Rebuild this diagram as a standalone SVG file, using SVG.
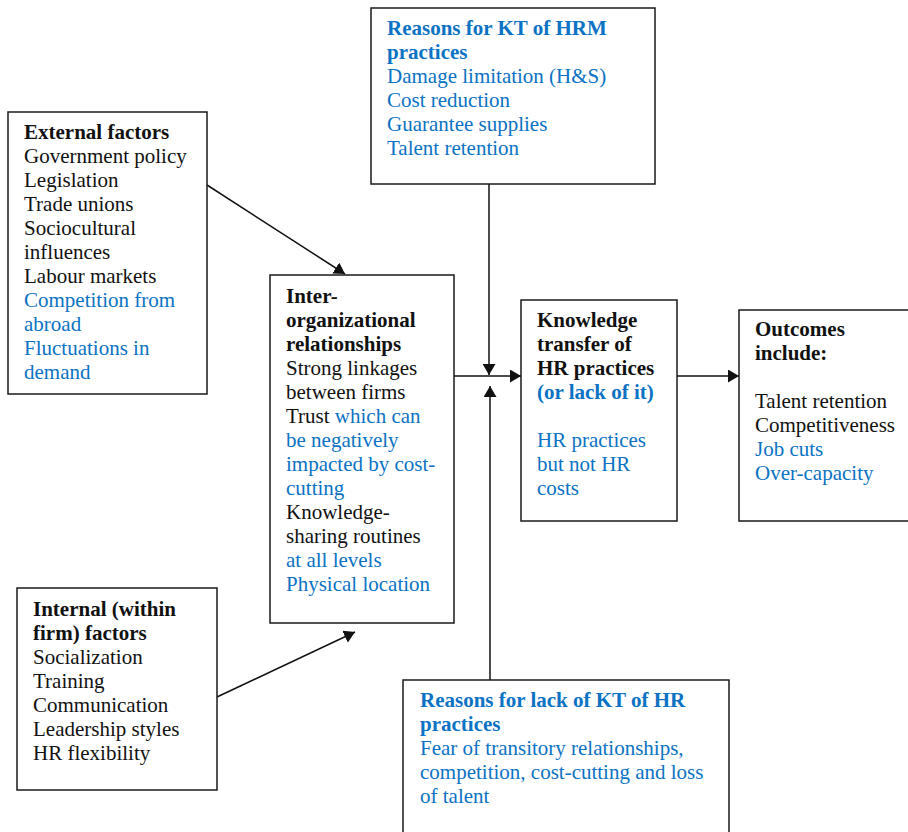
<svg xmlns="http://www.w3.org/2000/svg" width="908" height="832" viewBox="0 0 908 832">
<style>
.box{fill:#fff;stroke:#1a1a1a;stroke-width:1.5}
text{font-family:"Liberation Serif","Times New Roman",serif;font-size:21px;fill:#111}
.b{font-weight:bold}
.bl{fill:#0b72c4}
.conn{stroke:#111;stroke-width:1.5;fill:none;marker-end:url(#ah)}
</style>
<defs>
<marker id="ah" markerUnits="userSpaceOnUse" markerWidth="12" markerHeight="13" refX="11" refY="6.5" orient="auto">
<path d="M0,0 L11,6.5 L0,13 z" fill="#111"/>
</marker>
</defs>
<rect width="908" height="832" fill="#fff"/>
<g id="connectors">
<line class="conn" x1="207" y1="185" x2="345" y2="274"/>
<line class="conn" x1="217" y1="697" x2="355" y2="632"/>
<line class="conn" x1="454" y1="376" x2="521" y2="376"/>
<line class="conn" x1="489" y1="184" x2="489" y2="375"/>
<line class="conn" x1="490" y1="680" x2="490" y2="386"/>
<line class="conn" x1="677" y1="376" x2="739" y2="376"/>
</g>
<g id="reasons-kt">
<rect class="box" x="371" y="8" width="284" height="176"/>
<text x="387" y="35" class="b bl">Reasons for KT of HRM</text>
<text x="387" y="59" class="b bl">practices</text>
<text x="387" y="83" class="bl">Damage limitation (H&amp;S)</text>
<text x="387" y="107" class="bl">Cost reduction</text>
<text x="387" y="131" class="bl">Guarantee supplies</text>
<text x="387" y="155" class="bl">Talent retention</text>
</g>
<g id="external">
<rect class="box" x="8" y="112" width="199" height="282"/>
<text x="24" y="139" class="b">External factors</text>
<text x="24" y="163">Government policy</text>
<text x="24" y="187">Legislation</text>
<text x="24" y="211">Trade unions</text>
<text x="24" y="235">Sociocultural</text>
<text x="24" y="259">influences</text>
<text x="24" y="283">Labour markets</text>
<text x="24" y="307" class="bl">Competition from</text>
<text x="24" y="331" class="bl">abroad</text>
<text x="24" y="355" class="bl">Fluctuations in</text>
<text x="24" y="379" class="bl">demand</text>
</g>
<g id="inter-org">
<rect class="box" x="270" y="275" width="184" height="348"/>
<text x="286" y="303" class="b">Inter-</text>
<text x="286" y="327" class="b">organizational</text>
<text x="286" y="351" class="b">relationships</text>
<text x="286" y="375">Strong linkages</text>
<text x="286" y="399">between firms</text>
<text x="286" y="423">Trust <tspan class="bl">which can</tspan></text>
<text x="286" y="447" class="bl">be negatively</text>
<text x="286" y="471" class="bl">impacted by cost-</text>
<text x="286" y="495" class="bl">cutting</text>
<text x="286" y="519">Knowledge-</text>
<text x="286" y="543">sharing routines</text>
<text x="286" y="567" class="bl">at all levels</text>
<text x="286" y="591" class="bl">Physical location</text>
</g>
<g id="kt">
<rect class="box" x="521" y="300" width="156" height="221"/>
<text x="537" y="327" class="b">Knowledge</text>
<text x="537" y="351" class="b">transfer of</text>
<text x="537" y="375" class="b">HR practices</text>
<text x="537" y="399" class="b bl">(or lack of it)</text>
<text x="537" y="447" class="bl">HR practices</text>
<text x="537" y="471" class="bl">but not HR</text>
<text x="537" y="495" class="bl">costs</text>
</g>
<g id="outcomes">
<rect class="box" x="739" y="310" width="190" height="211"/>
<text x="755" y="336" class="b">Outcomes</text>
<text x="755" y="360" class="b">include:</text>
<text x="755" y="408">Talent retention</text>
<text x="755" y="432">Competitiveness</text>
<text x="755" y="456" class="bl">Job cuts</text>
<text x="755" y="480" class="bl">Over-capacity</text>
</g>
<g id="internal">
<rect class="box" x="17" y="588" width="200" height="202"/>
<text x="33" y="616" class="b">Internal (within</text>
<text x="33" y="640" class="b">firm) factors</text>
<text x="33" y="664">Socialization</text>
<text x="33" y="688">Training</text>
<text x="33" y="712">Communication</text>
<text x="33" y="736">Leadership styles</text>
<text x="33" y="760">HR flexibility</text>
</g>
<g id="reasons-lack">
<rect class="box" x="403" y="680" width="326" height="170"/>
<text x="420" y="707" class="b bl">Reasons for lack of KT of HR</text>
<text x="420" y="731" class="b bl">practices</text>
<text x="420" y="755" class="bl">Fear of transitory relationships,</text>
<text x="420" y="779" class="bl">competition, cost-cutting and loss</text>
<text x="420" y="803" class="bl">of talent</text>
</g>
</svg>
